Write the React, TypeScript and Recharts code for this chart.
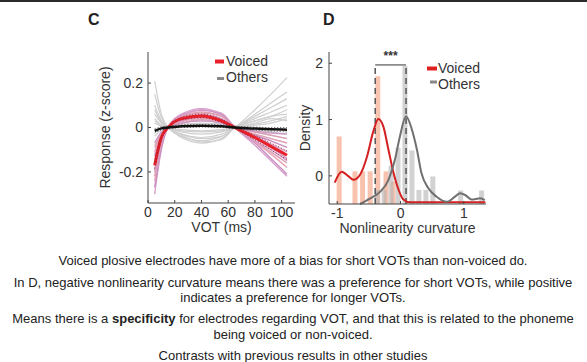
import React from 'react';
import { LineChart, Line, BarChart, Bar, XAxis, YAxis, ReferenceLine, Label } from 'recharts';

// Panel C: response curves sampled at these VOTs (ms)
const vot = [5, 10, 15, 25, 40, 55, 65, 80, 92, 104];

const grayLines = [
  [0.21, 0.06, 0.0, -0.04, -0.06, -0.04, 0.0, 0.08, 0.15, 0.225],
  [0.15, 0.045, 0.0, -0.03, -0.045, -0.03, 0.0, 0.06, 0.11, 0.16],
  [0.1, 0.03, 0.0, -0.03, -0.05, -0.04, 0.0, 0.05, 0.09, 0.13],
  [0.06, 0.02, 0.0, -0.045, -0.07, -0.05, 0.0, 0.04, 0.07, 0.1],
  [0.04, 0.01, 0.0, -0.02, -0.03, -0.02, 0.0, 0.03, 0.05, 0.08],
  [0.02, 0.005, 0.0, -0.01, -0.015, -0.01, 0.0, 0.015, 0.03, 0.05],
  [-0.04, -0.01, 0.0, 0.015, 0.02, 0.015, 0.0, -0.01, -0.02, -0.03],
  [-0.08, -0.02, 0.0, 0.02, 0.03, 0.02, 0.0, -0.02, -0.035, -0.05],
  [-0.12, -0.035, 0.0, 0.03, 0.045, 0.03, 0.0, -0.03, -0.05, -0.07],
  [0.08, 0.025, 0.0, -0.035, -0.065, -0.055, 0.0, 0.03, 0.05, 0.06],
  [-0.02, -0.005, 0.0, 0.005, 0.01, 0.005, 0.0, 0.01, 0.02, 0.04],
  [0.03, 0.01, 0.0, -0.015, -0.02, -0.015, 0.0, 0.02, 0.04, 0.03],
];

const pinkLines = [
  [-0.3, -0.1, 0.0, 0.06, 0.085, 0.06, 0.0, -0.08, -0.15, -0.22],
  [-0.27, -0.09, 0.0, 0.055, 0.078, 0.058, 0.0, -0.07, -0.14, -0.21],
  [-0.24, -0.07, 0.0, 0.05, 0.07, 0.05, 0.0, -0.065, -0.12, -0.18],
  [-0.22, -0.06, 0.0, 0.045, 0.065, 0.05, 0.0, -0.06, -0.11, -0.16],
  [-0.19, -0.05, 0.0, 0.04, 0.058, 0.04, 0.0, -0.05, -0.09, -0.14],
  [-0.15, -0.04, 0.0, 0.035, 0.05, 0.035, 0.0, -0.04, -0.075, -0.11],
  [-0.13, -0.035, 0.0, 0.03, 0.045, 0.03, 0.0, -0.035, -0.06, -0.09],
  [-0.11, -0.03, 0.0, 0.025, 0.04, 0.03, 0.0, -0.03, -0.05, -0.07],
  [-0.09, -0.025, 0.0, 0.02, 0.035, 0.025, 0.0, -0.02, -0.035, -0.05],
  [-0.07, -0.02, 0.0, 0.02, 0.03, 0.02, 0.0, -0.015, -0.025, -0.03],
  [-0.2, -0.07, 0.0, 0.05, 0.08, 0.065, 0.0, -0.06, -0.1, -0.15],
];
const pinkColors = ['#d7a1cc', '#c98dc0', '#e6a3b8', '#dba0b0', '#cf98c6'];

const voicedMean = [-0.17, -0.045, 0.0, 0.04, 0.052, 0.03, 0.0, -0.045, -0.085, -0.125];
const voicedUpper = [-0.155, -0.037, 0.004, 0.046, 0.06, 0.037, 0.005, -0.035, -0.07, -0.105];
const voicedLower = [-0.185, -0.053, -0.004, 0.034, 0.044, 0.023, -0.005, -0.055, -0.1, -0.145];
const othersMean = [-0.015, -0.004, 0.0, 0.006, 0.008, 0.006, 0.0, -0.005, -0.008, -0.01];
const othersUpper = [-0.005, 0.003, 0.006, 0.012, 0.014, 0.012, 0.006, 0.002, 0.0, 0.0];
const othersLower = [-0.025, -0.011, -0.006, 0.0, 0.002, 0.0, -0.006, -0.012, -0.016, -0.02];

const votTicks = [0, 20, 40, 60, 80, 100];
const responseTicks = [-0.2, 0, 0.2];

// Panel D: density curves
const voicedDensityX = [-1.04, -0.93, -0.82, -0.745, -0.64, -0.53, -0.43, -0.35, -0.27, -0.19, -0.11, -0.03, 0.04, 0.15, 0.5, 1.0, 1.34];
const voicedDensityY = [-0.12, 0.075, -0.01, -0.07, 0.02, 0.34, 0.79, 1.01, 0.87, 0.46, 0.05, -0.25, -0.415, -0.47, -0.47, -0.47, -0.47];
const othersDensityX = [-0.64, -0.48, -0.32, -0.19, -0.09, -0.01, 0.087, 0.18, 0.26, 0.33, 0.44, 0.57, 0.73, 0.86, 0.94, 1.02, 1.12, 1.26, 1.33];
const othersDensityY = [-0.5, -0.4, -0.28, -0.07, 0.28, 0.7, 1.06, 0.82, 0.46, 0.05, -0.22, -0.37, -0.46, -0.37, -0.31, -0.34, -0.42, -0.4, -0.43];

// histogram bins
const voicedBinX = [-0.97, -0.72, -0.6, -0.48, -0.36, -0.23, -0.12];
const voicedBinTop = [0.7, 0.08, 0.08, 0.08, 1.77, 0.08, -0.1];
const othersBinX = [-0.37, -0.26, -0.15, -0.04, 0.07, 0.18, 0.29, 0.4, 0.51, 0.95, 1.28];
const othersBinTop = [-0.25, -0.25, 0.18, 0.5, 1.95, 0.45, -0.25, -0.25, -0.01, -0.26, -0.26];

const curvTicks = [-1, 0, 1];
const densityTicks = [0, 1, 2];
const densityFloor = -0.5;
const voicedMedian = -0.4;
const othersMedian = 0.087;
const bracketY = 1.97;

const FONT = '"Liberation Sans", Arial, sans-serif';
const AXIS = '#444';
const TXT = '#333';

const curveRows = vot.map((x, i) => {
  const row: Record<string, number> = {
    x,
    voiced: voicedMean[i],
    voicedHi: voicedUpper[i],
    voicedLo: voicedLower[i],
    others: othersMean[i],
    othersHi: othersUpper[i],
    othersLo: othersLower[i],
  };
  grayLines.forEach((l, j) => (row['g' + j] = l[i]));
  pinkLines.forEach((l, j) => (row['p' + j] = l[i]));
  return row;
});

const densityRows = [
  ...voicedDensityX.map((x, i) => ({ x, voiced: voicedDensityY[i] })),
  ...othersDensityX.map((x, i) => ({ x, others: othersDensityY[i] })),
].sort((a, b) => a.x - b.x);

const voicedBins = voicedBinX.map((x, i) => ({ x, range: [densityFloor, voicedBinTop[i]] }));
const othersBins = othersBinX.map((x, i) => ({ x, range: [densityFloor, othersBinTop[i]] }));

const tickStyle = { fill: TXT, fontSize: 14, fontFamily: FONT };

const D_LEFT = 290;
const D_W = 210;
const D_H = 240;
const D_MARGIN = { top: 52, right: 14, bottom: 6, left: 15 };

const HistLayer = ({ data, color }: { data: { x: number; range: number[] }[]; color: string }) => (
  <div style={{ position: 'absolute', left: D_LEFT, top: 0 }}>
    <BarChart width={D_W} height={D_H} data={data} margin={D_MARGIN}>
      <XAxis type="number" dataKey="x" domain={[-1.13, 1.35]} height={30} tick={false} axisLine={false} tickLine={false} />
      <YAxis type="number" domain={[densityFloor, 2.2]} width={24} tick={false} axisLine={false} tickLine={false} />
      <Bar dataKey="range" fill={color} barSize={5} isAnimationActive={false} />
    </BarChart>
  </div>
);

export default function App() {
  return (
    <div style={{ position: 'absolute', left: 0, top: 0, width: 587, height: 362, background: '#fff', fontFamily: FONT, overflow: 'hidden' }}>
      <div style={{ position: 'absolute', left: 0, top: 0, width: 587, height: 2, background: '#2b2b2b' }} />

      {/* Panel C */}
      <div style={{ position: 'absolute', left: 0, top: 0 }}>
        <LineChart width={310} height={240} data={curveRows} margin={{ top: 52, right: 15, bottom: 7, left: 98 }}>
          <XAxis type="number" dataKey="x" domain={[0, 110]} ticks={votTicks} height={30} tickSize={-3} tickMargin={7}
            stroke={AXIS} tick={tickStyle}>
            <Label value="VOT (ms)" position="insideBottom" offset={1} style={{ fill: TXT, fontSize: 14, fontFamily: FONT }} />
          </XAxis>
          <YAxis type="number" domain={[-0.34, 0.34]} ticks={responseTicks} width={50} tickSize={-3} tickMargin={8}
            stroke={AXIS} tick={tickStyle}>
            <Label value="Response (z-score)" angle={-90} position="insideLeft" offset={7}
              style={{ fill: TXT, fontSize: 14, fontFamily: FONT, textAnchor: 'middle' }} />
          </YAxis>
          {grayLines.map((_, j) => (
            <Line key={'g' + j} dataKey={'g' + j} type="monotone" stroke="#cfcfcf" strokeWidth={1.2} dot={false} isAnimationActive={false} />
          ))}
          {pinkLines.map((_, j) => (
            <Line key={'p' + j} dataKey={'p' + j} type="monotone" stroke={pinkColors[j % pinkColors.length]} strokeWidth={1.4} dot={false} isAnimationActive={false} />
          ))}
          <Line dataKey="voiced" type="monotone" stroke="#e8202a" strokeWidth={3} dot={false} isAnimationActive={false} />
          <Line dataKey="voicedHi" type="monotone" stroke="#a0202c" strokeWidth={1} strokeDasharray="1 2" dot={false} isAnimationActive={false} />
          <Line dataKey="voicedLo" type="monotone" stroke="#a0202c" strokeWidth={1} strokeDasharray="1 2" dot={false} isAnimationActive={false} />
          <Line dataKey="othersHi" type="monotone" stroke="#555" strokeWidth={1} strokeDasharray="1 2" dot={false} isAnimationActive={false} />
          <Line dataKey="othersLo" type="monotone" stroke="#555" strokeWidth={1} strokeDasharray="1 2" dot={false} isAnimationActive={false} />
          <Line dataKey="others" type="monotone" stroke="#111" strokeWidth={2.5} dot={false} isAnimationActive={false} />
        </LineChart>
      </div>

      {/* Panel D: histograms underneath, curves and axes on top */}
      <HistLayer data={voicedBins} color="rgba(244, 170, 140, 0.7)" />
      <HistLayer data={othersBins} color="rgba(180, 180, 180, 0.6)" />
      <div style={{ position: 'absolute', left: D_LEFT, top: 0 }}>
        <LineChart width={D_W} height={D_H} data={densityRows} margin={D_MARGIN}>
          <XAxis type="number" dataKey="x" domain={[-1.13, 1.35]} ticks={curvTicks} height={30} tickSize={-3} tickMargin={7}
            stroke={AXIS} tick={tickStyle}>
            <Label value="Nonlinearity curvature" position="insideBottom" offset={1} style={{ fill: TXT, fontSize: 14, fontFamily: FONT }} />
          </XAxis>
          <YAxis type="number" domain={[densityFloor, 2.2]} ticks={densityTicks} width={24} tickSize={-3} tickMargin={9}
            stroke={AXIS} tick={tickStyle}>
            <Label value="Density" angle={-90} position="insideLeft" offset={0}
              style={{ fill: TXT, fontSize: 14, fontFamily: FONT, textAnchor: 'middle' }} />
          </YAxis>
          <ReferenceLine segment={[{ x: voicedMedian, y: densityFloor }, { x: voicedMedian, y: bracketY }]} stroke="#555" strokeWidth={1.5} strokeDasharray="6 4" />
          <ReferenceLine segment={[{ x: othersMedian, y: densityFloor }, { x: othersMedian, y: bracketY }]} stroke="#555" strokeWidth={1.5} strokeDasharray="6 4" />
          <ReferenceLine segment={[{ x: voicedMedian, y: bracketY }, { x: othersMedian, y: bracketY }]} stroke="#333" strokeWidth={1}
            label={{ value: '***', position: 'top', fill: '#333', fontSize: 12, fontWeight: 'bold' }} />
          <Line dataKey="voiced" type="monotone" stroke="#d42020" strokeWidth={2} dot={false} connectNulls isAnimationActive={false} />
          <Line dataKey="others" type="monotone" stroke="#707070" strokeWidth={2} dot={false} connectNulls isAnimationActive={false} />
        </LineChart>
      </div>

      {/* letters, legends, caption */}
      <svg width={587} height={362} style={{ position: 'absolute', left: 0, top: 0, pointerEvents: 'none' }} fontFamily={FONT}>
        <text x={88} y={25} fontSize={16} fontWeight="bold" fill="#222">C</text>
        <text x={323} y={25} fontSize={16} fontWeight="bold" fill="#222">D</text>

        <rect x={215} y={59.5} width={9} height={4} fill="#e8202a" />
        <text x={226} y={66} fontSize={14} fill={TXT}>Voiced</text>
        <rect x={217} y={77} width={7} height={3} fill="#888" />
        <text x={226} y={82} fontSize={14} fill={TXT}>Others</text>

        <rect x={427} y={66.5} width={10} height={4} fill="#e02020" />
        <text x={438} y={72.5} fontSize={14} fill={TXT}>Voiced</text>
        <rect x={430} y={80.5} width={7} height={3} fill="#888" />
        <text x={438} y={88.5} fontSize={14} fill={TXT}>Others</text>

        <g fontSize={13} fill="#222" textAnchor="middle">
          <text x={293} y={265}>Voiced plosive electrodes have more of a bias for short VOTs than non-voiced do.</text>
          <text x={293} y={287}>In D, negative nonlinearity curvature means there was a preference for short VOTs, while positive</text>
          <text x={293} y={302}>indicates a preference for longer VOTs.</text>
          <text x={293} y={323}>Means there is a <tspan fontWeight="bold">specificity</tspan> for electrodes regarding VOT, and that this is related to the phoneme</text>
          <text x={293} y={339}>being voiced or non-voiced.</text>
          <text x={293} y={359.5}>Contrasts with previous results in other studies</text>
        </g>
      </svg>
    </div>
  );
}
